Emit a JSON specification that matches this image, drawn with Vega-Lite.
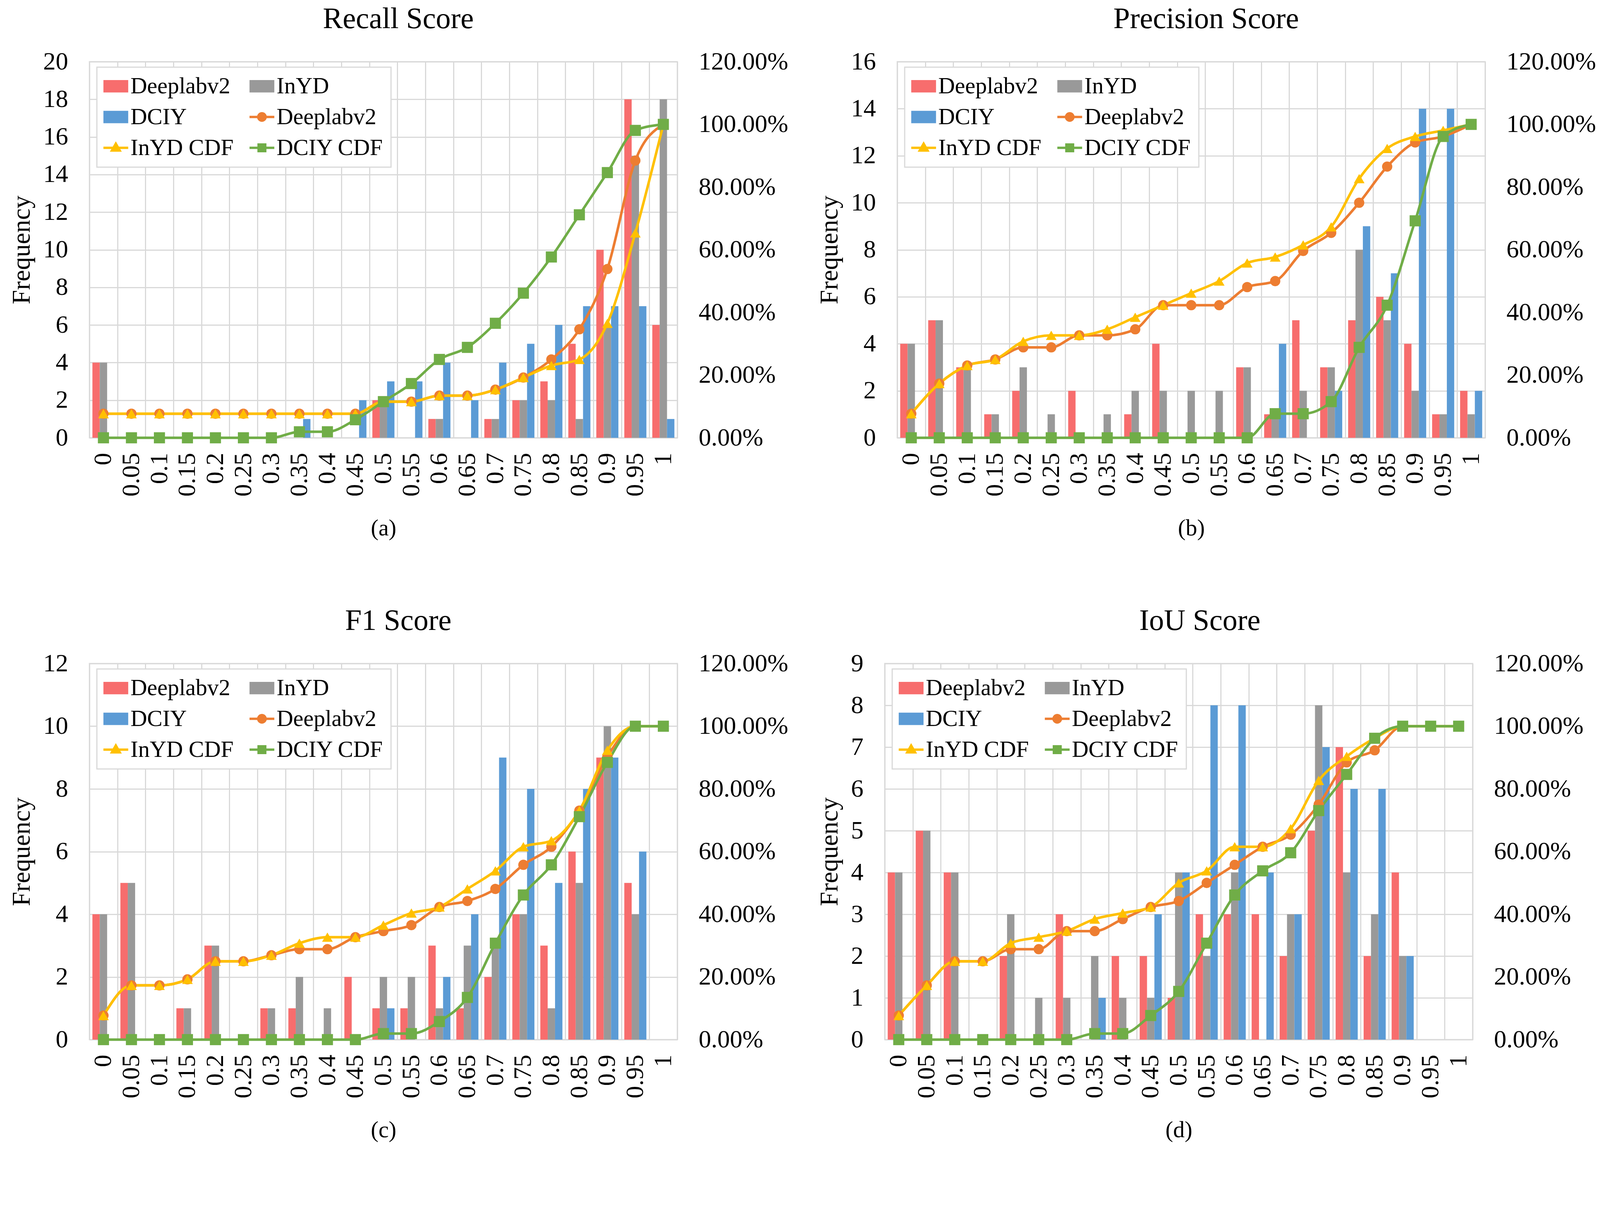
{
"$schema": "https://vega.github.io/schema/vega-lite/v6.json",
"padding": {"left": 20, "top": 9, "right": 4, "bottom": 15},
"background": "white",
"datasets": {
"bars": [
{"p":"a","c":"0","s":"Deeplabv2","v":4},{"p":"a","c":"0.5","s":"Deeplabv2","v":2},{"p":"a","c":"0.6","s":"Deeplabv2","v":1},{"p":"a","c":"0.7","s":"Deeplabv2","v":1},{"p":"a","c":"0.75","s":"Deeplabv2","v":2},{"p":"a","c":"0.8","s":"Deeplabv2","v":3},{"p":"a","c":"0.85","s":"Deeplabv2","v":5},{"p":"a","c":"0.9","s":"Deeplabv2","v":10},{"p":"a","c":"0.95","s":"Deeplabv2","v":18},{"p":"a","c":"1","s":"Deeplabv2","v":6},
{"p":"a","c":"0","s":"InYD","v":4},{"p":"a","c":"0.5","s":"InYD","v":2},{"p":"a","c":"0.6","s":"InYD","v":1},{"p":"a","c":"0.7","s":"InYD","v":1},{"p":"a","c":"0.75","s":"InYD","v":2},{"p":"a","c":"0.8","s":"InYD","v":2},{"p":"a","c":"0.85","s":"InYD","v":1},{"p":"a","c":"0.9","s":"InYD","v":6},{"p":"a","c":"0.95","s":"InYD","v":15},{"p":"a","c":"1","s":"InYD","v":18},
{"p":"a","c":"0.35","s":"DCIY","v":1},{"p":"a","c":"0.45","s":"DCIY","v":2},{"p":"a","c":"0.5","s":"DCIY","v":3},{"p":"a","c":"0.55","s":"DCIY","v":3},{"p":"a","c":"0.6","s":"DCIY","v":4},{"p":"a","c":"0.65","s":"DCIY","v":2},{"p":"a","c":"0.7","s":"DCIY","v":4},{"p":"a","c":"0.75","s":"DCIY","v":5},{"p":"a","c":"0.8","s":"DCIY","v":6},{"p":"a","c":"0.85","s":"DCIY","v":7},{"p":"a","c":"0.9","s":"DCIY","v":7},{"p":"a","c":"0.95","s":"DCIY","v":7},{"p":"a","c":"1","s":"DCIY","v":1},
{"p":"b","c":"0","s":"Deeplabv2","v":4},{"p":"b","c":"0.05","s":"Deeplabv2","v":5},{"p":"b","c":"0.1","s":"Deeplabv2","v":3},{"p":"b","c":"0.15","s":"Deeplabv2","v":1},{"p":"b","c":"0.2","s":"Deeplabv2","v":2},{"p":"b","c":"0.3","s":"Deeplabv2","v":2},{"p":"b","c":"0.4","s":"Deeplabv2","v":1},{"p":"b","c":"0.45","s":"Deeplabv2","v":4},{"p":"b","c":"0.6","s":"Deeplabv2","v":3},{"p":"b","c":"0.65","s":"Deeplabv2","v":1},{"p":"b","c":"0.7","s":"Deeplabv2","v":5},{"p":"b","c":"0.75","s":"Deeplabv2","v":3},{"p":"b","c":"0.8","s":"Deeplabv2","v":5},{"p":"b","c":"0.85","s":"Deeplabv2","v":6},{"p":"b","c":"0.9","s":"Deeplabv2","v":4},{"p":"b","c":"0.95","s":"Deeplabv2","v":1},{"p":"b","c":"1","s":"Deeplabv2","v":2},
{"p":"b","c":"0","s":"InYD","v":4},{"p":"b","c":"0.05","s":"InYD","v":5},{"p":"b","c":"0.1","s":"InYD","v":3},{"p":"b","c":"0.15","s":"InYD","v":1},{"p":"b","c":"0.2","s":"InYD","v":3},{"p":"b","c":"0.25","s":"InYD","v":1},{"p":"b","c":"0.35","s":"InYD","v":1},{"p":"b","c":"0.4","s":"InYD","v":2},{"p":"b","c":"0.45","s":"InYD","v":2},{"p":"b","c":"0.5","s":"InYD","v":2},{"p":"b","c":"0.55","s":"InYD","v":2},{"p":"b","c":"0.6","s":"InYD","v":3},{"p":"b","c":"0.65","s":"InYD","v":1},{"p":"b","c":"0.7","s":"InYD","v":2},{"p":"b","c":"0.75","s":"InYD","v":3},{"p":"b","c":"0.8","s":"InYD","v":8},{"p":"b","c":"0.85","s":"InYD","v":5},{"p":"b","c":"0.9","s":"InYD","v":2},{"p":"b","c":"0.95","s":"InYD","v":1},{"p":"b","c":"1","s":"InYD","v":1},
{"p":"b","c":"0.65","s":"DCIY","v":4},{"p":"b","c":"0.75","s":"DCIY","v":2},{"p":"b","c":"0.8","s":"DCIY","v":9},{"p":"b","c":"0.85","s":"DCIY","v":7},{"p":"b","c":"0.9","s":"DCIY","v":14},{"p":"b","c":"0.95","s":"DCIY","v":14},{"p":"b","c":"1","s":"DCIY","v":2},
{"p":"c","c":"0","s":"Deeplabv2","v":4},{"p":"c","c":"0.05","s":"Deeplabv2","v":5},{"p":"c","c":"0.15","s":"Deeplabv2","v":1},{"p":"c","c":"0.2","s":"Deeplabv2","v":3},{"p":"c","c":"0.3","s":"Deeplabv2","v":1},{"p":"c","c":"0.35","s":"Deeplabv2","v":1},{"p":"c","c":"0.45","s":"Deeplabv2","v":2},{"p":"c","c":"0.5","s":"Deeplabv2","v":1},{"p":"c","c":"0.55","s":"Deeplabv2","v":1},{"p":"c","c":"0.6","s":"Deeplabv2","v":3},{"p":"c","c":"0.65","s":"Deeplabv2","v":1},{"p":"c","c":"0.7","s":"Deeplabv2","v":2},{"p":"c","c":"0.75","s":"Deeplabv2","v":4},{"p":"c","c":"0.8","s":"Deeplabv2","v":3},{"p":"c","c":"0.85","s":"Deeplabv2","v":6},{"p":"c","c":"0.9","s":"Deeplabv2","v":9},{"p":"c","c":"0.95","s":"Deeplabv2","v":5},
{"p":"c","c":"0","s":"InYD","v":4},{"p":"c","c":"0.05","s":"InYD","v":5},{"p":"c","c":"0.15","s":"InYD","v":1},{"p":"c","c":"0.2","s":"InYD","v":3},{"p":"c","c":"0.3","s":"InYD","v":1},{"p":"c","c":"0.35","s":"InYD","v":2},{"p":"c","c":"0.4","s":"InYD","v":1},{"p":"c","c":"0.5","s":"InYD","v":2},{"p":"c","c":"0.55","s":"InYD","v":2},{"p":"c","c":"0.6","s":"InYD","v":1},{"p":"c","c":"0.65","s":"InYD","v":3},{"p":"c","c":"0.7","s":"InYD","v":3},{"p":"c","c":"0.75","s":"InYD","v":4},{"p":"c","c":"0.8","s":"InYD","v":1},{"p":"c","c":"0.85","s":"InYD","v":5},{"p":"c","c":"0.9","s":"InYD","v":10},{"p":"c","c":"0.95","s":"InYD","v":4},
{"p":"c","c":"0.5","s":"DCIY","v":1},{"p":"c","c":"0.6","s":"DCIY","v":2},{"p":"c","c":"0.65","s":"DCIY","v":4},{"p":"c","c":"0.7","s":"DCIY","v":9},{"p":"c","c":"0.75","s":"DCIY","v":8},{"p":"c","c":"0.8","s":"DCIY","v":5},{"p":"c","c":"0.85","s":"DCIY","v":8},{"p":"c","c":"0.9","s":"DCIY","v":9},{"p":"c","c":"0.95","s":"DCIY","v":6},
{"p":"d","c":"0","s":"Deeplabv2","v":4},{"p":"d","c":"0.05","s":"Deeplabv2","v":5},{"p":"d","c":"0.1","s":"Deeplabv2","v":4},{"p":"d","c":"0.2","s":"Deeplabv2","v":2},{"p":"d","c":"0.3","s":"Deeplabv2","v":3},{"p":"d","c":"0.4","s":"Deeplabv2","v":2},{"p":"d","c":"0.45","s":"Deeplabv2","v":2},{"p":"d","c":"0.5","s":"Deeplabv2","v":1},{"p":"d","c":"0.55","s":"Deeplabv2","v":3},{"p":"d","c":"0.6","s":"Deeplabv2","v":3},{"p":"d","c":"0.65","s":"Deeplabv2","v":3},{"p":"d","c":"0.7","s":"Deeplabv2","v":2},{"p":"d","c":"0.75","s":"Deeplabv2","v":5},{"p":"d","c":"0.8","s":"Deeplabv2","v":7},{"p":"d","c":"0.85","s":"Deeplabv2","v":2},{"p":"d","c":"0.9","s":"Deeplabv2","v":4},
{"p":"d","c":"0","s":"InYD","v":4},{"p":"d","c":"0.05","s":"InYD","v":5},{"p":"d","c":"0.1","s":"InYD","v":4},{"p":"d","c":"0.2","s":"InYD","v":3},{"p":"d","c":"0.25","s":"InYD","v":1},{"p":"d","c":"0.3","s":"InYD","v":1},{"p":"d","c":"0.35","s":"InYD","v":2},{"p":"d","c":"0.4","s":"InYD","v":1},{"p":"d","c":"0.45","s":"InYD","v":1},{"p":"d","c":"0.5","s":"InYD","v":4},{"p":"d","c":"0.55","s":"InYD","v":2},{"p":"d","c":"0.6","s":"InYD","v":4},{"p":"d","c":"0.7","s":"InYD","v":3},{"p":"d","c":"0.75","s":"InYD","v":8},{"p":"d","c":"0.8","s":"InYD","v":4},{"p":"d","c":"0.85","s":"InYD","v":3},{"p":"d","c":"0.9","s":"InYD","v":2},
{"p":"d","c":"0.35","s":"DCIY","v":1},{"p":"d","c":"0.45","s":"DCIY","v":3},{"p":"d","c":"0.5","s":"DCIY","v":4},{"p":"d","c":"0.55","s":"DCIY","v":8},{"p":"d","c":"0.6","s":"DCIY","v":8},{"p":"d","c":"0.65","s":"DCIY","v":4},{"p":"d","c":"0.7","s":"DCIY","v":3},{"p":"d","c":"0.75","s":"DCIY","v":7},{"p":"d","c":"0.8","s":"DCIY","v":6},{"p":"d","c":"0.85","s":"DCIY","v":6},{"p":"d","c":"0.9","s":"DCIY","v":2}
],
"cdf": [
{"p":"a","s":"Deeplabv2 CDF","c":"0","v":0.0769},{"p":"a","s":"Deeplabv2 CDF","c":"0.05","v":0.0769},{"p":"a","s":"Deeplabv2 CDF","c":"0.1","v":0.0769},{"p":"a","s":"Deeplabv2 CDF","c":"0.15","v":0.0769},{"p":"a","s":"Deeplabv2 CDF","c":"0.2","v":0.0769},{"p":"a","s":"Deeplabv2 CDF","c":"0.25","v":0.0769},{"p":"a","s":"Deeplabv2 CDF","c":"0.3","v":0.0769},{"p":"a","s":"Deeplabv2 CDF","c":"0.35","v":0.0769},{"p":"a","s":"Deeplabv2 CDF","c":"0.4","v":0.0769},{"p":"a","s":"Deeplabv2 CDF","c":"0.45","v":0.0769},{"p":"a","s":"Deeplabv2 CDF","c":"0.5","v":0.1154},{"p":"a","s":"Deeplabv2 CDF","c":"0.55","v":0.1154},{"p":"a","s":"Deeplabv2 CDF","c":"0.6","v":0.1346},{"p":"a","s":"Deeplabv2 CDF","c":"0.65","v":0.1346},{"p":"a","s":"Deeplabv2 CDF","c":"0.7","v":0.1538},{"p":"a","s":"Deeplabv2 CDF","c":"0.75","v":0.1923},{"p":"a","s":"Deeplabv2 CDF","c":"0.8","v":0.25},{"p":"a","s":"Deeplabv2 CDF","c":"0.85","v":0.3462},{"p":"a","s":"Deeplabv2 CDF","c":"0.9","v":0.5385},{"p":"a","s":"Deeplabv2 CDF","c":"0.95","v":0.8846},{"p":"a","s":"Deeplabv2 CDF","c":"1","v":1},
{"p":"a","s":"InYD CDF","c":"0","v":0.0769},{"p":"a","s":"InYD CDF","c":"0.05","v":0.0769},{"p":"a","s":"InYD CDF","c":"0.1","v":0.0769},{"p":"a","s":"InYD CDF","c":"0.15","v":0.0769},{"p":"a","s":"InYD CDF","c":"0.2","v":0.0769},{"p":"a","s":"InYD CDF","c":"0.25","v":0.0769},{"p":"a","s":"InYD CDF","c":"0.3","v":0.0769},{"p":"a","s":"InYD CDF","c":"0.35","v":0.0769},{"p":"a","s":"InYD CDF","c":"0.4","v":0.0769},{"p":"a","s":"InYD CDF","c":"0.45","v":0.0769},{"p":"a","s":"InYD CDF","c":"0.5","v":0.1154},{"p":"a","s":"InYD CDF","c":"0.55","v":0.1154},{"p":"a","s":"InYD CDF","c":"0.6","v":0.1346},{"p":"a","s":"InYD CDF","c":"0.65","v":0.1346},{"p":"a","s":"InYD CDF","c":"0.7","v":0.1538},{"p":"a","s":"InYD CDF","c":"0.75","v":0.1923},{"p":"a","s":"InYD CDF","c":"0.8","v":0.2308},{"p":"a","s":"InYD CDF","c":"0.85","v":0.25},{"p":"a","s":"InYD CDF","c":"0.9","v":0.3654},{"p":"a","s":"InYD CDF","c":"0.95","v":0.6538},{"p":"a","s":"InYD CDF","c":"1","v":1},
{"p":"a","s":"DCIY CDF","c":"0","v":0},{"p":"a","s":"DCIY CDF","c":"0.05","v":0},{"p":"a","s":"DCIY CDF","c":"0.1","v":0},{"p":"a","s":"DCIY CDF","c":"0.15","v":0},{"p":"a","s":"DCIY CDF","c":"0.2","v":0},{"p":"a","s":"DCIY CDF","c":"0.25","v":0},{"p":"a","s":"DCIY CDF","c":"0.3","v":0},{"p":"a","s":"DCIY CDF","c":"0.35","v":0.0192},{"p":"a","s":"DCIY CDF","c":"0.4","v":0.0192},{"p":"a","s":"DCIY CDF","c":"0.45","v":0.0577},{"p":"a","s":"DCIY CDF","c":"0.5","v":0.1154},{"p":"a","s":"DCIY CDF","c":"0.55","v":0.1731},{"p":"a","s":"DCIY CDF","c":"0.6","v":0.25},{"p":"a","s":"DCIY CDF","c":"0.65","v":0.2885},{"p":"a","s":"DCIY CDF","c":"0.7","v":0.3654},{"p":"a","s":"DCIY CDF","c":"0.75","v":0.4615},{"p":"a","s":"DCIY CDF","c":"0.8","v":0.5769},{"p":"a","s":"DCIY CDF","c":"0.85","v":0.7115},{"p":"a","s":"DCIY CDF","c":"0.9","v":0.8462},{"p":"a","s":"DCIY CDF","c":"0.95","v":0.9808},{"p":"a","s":"DCIY CDF","c":"1","v":1},
{"p":"b","s":"Deeplabv2 CDF","c":"0","v":0.0769},{"p":"b","s":"Deeplabv2 CDF","c":"0.05","v":0.1731},{"p":"b","s":"Deeplabv2 CDF","c":"0.1","v":0.2308},{"p":"b","s":"Deeplabv2 CDF","c":"0.15","v":0.25},{"p":"b","s":"Deeplabv2 CDF","c":"0.2","v":0.2885},{"p":"b","s":"Deeplabv2 CDF","c":"0.25","v":0.2885},{"p":"b","s":"Deeplabv2 CDF","c":"0.3","v":0.3269},{"p":"b","s":"Deeplabv2 CDF","c":"0.35","v":0.3269},{"p":"b","s":"Deeplabv2 CDF","c":"0.4","v":0.3462},{"p":"b","s":"Deeplabv2 CDF","c":"0.45","v":0.4231},{"p":"b","s":"Deeplabv2 CDF","c":"0.5","v":0.4231},{"p":"b","s":"Deeplabv2 CDF","c":"0.55","v":0.4231},{"p":"b","s":"Deeplabv2 CDF","c":"0.6","v":0.4808},{"p":"b","s":"Deeplabv2 CDF","c":"0.65","v":0.5},{"p":"b","s":"Deeplabv2 CDF","c":"0.7","v":0.5962},{"p":"b","s":"Deeplabv2 CDF","c":"0.75","v":0.6538},{"p":"b","s":"Deeplabv2 CDF","c":"0.8","v":0.75},{"p":"b","s":"Deeplabv2 CDF","c":"0.85","v":0.8654},{"p":"b","s":"Deeplabv2 CDF","c":"0.9","v":0.9423},{"p":"b","s":"Deeplabv2 CDF","c":"0.95","v":0.9615},{"p":"b","s":"Deeplabv2 CDF","c":"1","v":1},
{"p":"b","s":"InYD CDF","c":"0","v":0.0769},{"p":"b","s":"InYD CDF","c":"0.05","v":0.1731},{"p":"b","s":"InYD CDF","c":"0.1","v":0.2308},{"p":"b","s":"InYD CDF","c":"0.15","v":0.25},{"p":"b","s":"InYD CDF","c":"0.2","v":0.3077},{"p":"b","s":"InYD CDF","c":"0.25","v":0.3269},{"p":"b","s":"InYD CDF","c":"0.3","v":0.3269},{"p":"b","s":"InYD CDF","c":"0.35","v":0.3462},{"p":"b","s":"InYD CDF","c":"0.4","v":0.3846},{"p":"b","s":"InYD CDF","c":"0.45","v":0.4231},{"p":"b","s":"InYD CDF","c":"0.5","v":0.4615},{"p":"b","s":"InYD CDF","c":"0.55","v":0.5},{"p":"b","s":"InYD CDF","c":"0.6","v":0.5577},{"p":"b","s":"InYD CDF","c":"0.65","v":0.5769},{"p":"b","s":"InYD CDF","c":"0.7","v":0.6154},{"p":"b","s":"InYD CDF","c":"0.75","v":0.6731},{"p":"b","s":"InYD CDF","c":"0.8","v":0.8269},{"p":"b","s":"InYD CDF","c":"0.85","v":0.9231},{"p":"b","s":"InYD CDF","c":"0.9","v":0.9615},{"p":"b","s":"InYD CDF","c":"0.95","v":0.9808},{"p":"b","s":"InYD CDF","c":"1","v":1},
{"p":"b","s":"DCIY CDF","c":"0","v":0},{"p":"b","s":"DCIY CDF","c":"0.05","v":0},{"p":"b","s":"DCIY CDF","c":"0.1","v":0},{"p":"b","s":"DCIY CDF","c":"0.15","v":0},{"p":"b","s":"DCIY CDF","c":"0.2","v":0},{"p":"b","s":"DCIY CDF","c":"0.25","v":0},{"p":"b","s":"DCIY CDF","c":"0.3","v":0},{"p":"b","s":"DCIY CDF","c":"0.35","v":0},{"p":"b","s":"DCIY CDF","c":"0.4","v":0},{"p":"b","s":"DCIY CDF","c":"0.45","v":0},{"p":"b","s":"DCIY CDF","c":"0.5","v":0},{"p":"b","s":"DCIY CDF","c":"0.55","v":0},{"p":"b","s":"DCIY CDF","c":"0.6","v":0},{"p":"b","s":"DCIY CDF","c":"0.65","v":0.0769},{"p":"b","s":"DCIY CDF","c":"0.7","v":0.0769},{"p":"b","s":"DCIY CDF","c":"0.75","v":0.1154},{"p":"b","s":"DCIY CDF","c":"0.8","v":0.2885},{"p":"b","s":"DCIY CDF","c":"0.85","v":0.4231},{"p":"b","s":"DCIY CDF","c":"0.9","v":0.6923},{"p":"b","s":"DCIY CDF","c":"0.95","v":0.9615},{"p":"b","s":"DCIY CDF","c":"1","v":1},
{"p":"c","s":"Deeplabv2 CDF","c":"0","v":0.0769},{"p":"c","s":"Deeplabv2 CDF","c":"0.05","v":0.1731},{"p":"c","s":"Deeplabv2 CDF","c":"0.1","v":0.1731},{"p":"c","s":"Deeplabv2 CDF","c":"0.15","v":0.1923},{"p":"c","s":"Deeplabv2 CDF","c":"0.2","v":0.25},{"p":"c","s":"Deeplabv2 CDF","c":"0.25","v":0.25},{"p":"c","s":"Deeplabv2 CDF","c":"0.3","v":0.2692},{"p":"c","s":"Deeplabv2 CDF","c":"0.35","v":0.2885},{"p":"c","s":"Deeplabv2 CDF","c":"0.4","v":0.2885},{"p":"c","s":"Deeplabv2 CDF","c":"0.45","v":0.3269},{"p":"c","s":"Deeplabv2 CDF","c":"0.5","v":0.3462},{"p":"c","s":"Deeplabv2 CDF","c":"0.55","v":0.3654},{"p":"c","s":"Deeplabv2 CDF","c":"0.6","v":0.4231},{"p":"c","s":"Deeplabv2 CDF","c":"0.65","v":0.4423},{"p":"c","s":"Deeplabv2 CDF","c":"0.7","v":0.4808},{"p":"c","s":"Deeplabv2 CDF","c":"0.75","v":0.5577},{"p":"c","s":"Deeplabv2 CDF","c":"0.8","v":0.6154},{"p":"c","s":"Deeplabv2 CDF","c":"0.85","v":0.7308},{"p":"c","s":"Deeplabv2 CDF","c":"0.9","v":0.9038},{"p":"c","s":"Deeplabv2 CDF","c":"0.95","v":1},{"p":"c","s":"Deeplabv2 CDF","c":"1","v":1},
{"p":"c","s":"InYD CDF","c":"0","v":0.0769},{"p":"c","s":"InYD CDF","c":"0.05","v":0.1731},{"p":"c","s":"InYD CDF","c":"0.1","v":0.1731},{"p":"c","s":"InYD CDF","c":"0.15","v":0.1923},{"p":"c","s":"InYD CDF","c":"0.2","v":0.25},{"p":"c","s":"InYD CDF","c":"0.25","v":0.25},{"p":"c","s":"InYD CDF","c":"0.3","v":0.2692},{"p":"c","s":"InYD CDF","c":"0.35","v":0.3077},{"p":"c","s":"InYD CDF","c":"0.4","v":0.3269},{"p":"c","s":"InYD CDF","c":"0.45","v":0.3269},{"p":"c","s":"InYD CDF","c":"0.5","v":0.3654},{"p":"c","s":"InYD CDF","c":"0.55","v":0.4038},{"p":"c","s":"InYD CDF","c":"0.6","v":0.4231},{"p":"c","s":"InYD CDF","c":"0.65","v":0.4808},{"p":"c","s":"InYD CDF","c":"0.7","v":0.5385},{"p":"c","s":"InYD CDF","c":"0.75","v":0.6154},{"p":"c","s":"InYD CDF","c":"0.8","v":0.6346},{"p":"c","s":"InYD CDF","c":"0.85","v":0.7308},{"p":"c","s":"InYD CDF","c":"0.9","v":0.9231},{"p":"c","s":"InYD CDF","c":"0.95","v":1},{"p":"c","s":"InYD CDF","c":"1","v":1},
{"p":"c","s":"DCIY CDF","c":"0","v":0},{"p":"c","s":"DCIY CDF","c":"0.05","v":0},{"p":"c","s":"DCIY CDF","c":"0.1","v":0},{"p":"c","s":"DCIY CDF","c":"0.15","v":0},{"p":"c","s":"DCIY CDF","c":"0.2","v":0},{"p":"c","s":"DCIY CDF","c":"0.25","v":0},{"p":"c","s":"DCIY CDF","c":"0.3","v":0},{"p":"c","s":"DCIY CDF","c":"0.35","v":0},{"p":"c","s":"DCIY CDF","c":"0.4","v":0},{"p":"c","s":"DCIY CDF","c":"0.45","v":0},{"p":"c","s":"DCIY CDF","c":"0.5","v":0.0192},{"p":"c","s":"DCIY CDF","c":"0.55","v":0.0192},{"p":"c","s":"DCIY CDF","c":"0.6","v":0.0577},{"p":"c","s":"DCIY CDF","c":"0.65","v":0.1346},{"p":"c","s":"DCIY CDF","c":"0.7","v":0.3077},{"p":"c","s":"DCIY CDF","c":"0.75","v":0.4615},{"p":"c","s":"DCIY CDF","c":"0.8","v":0.5577},{"p":"c","s":"DCIY CDF","c":"0.85","v":0.7115},{"p":"c","s":"DCIY CDF","c":"0.9","v":0.8846},{"p":"c","s":"DCIY CDF","c":"0.95","v":1},{"p":"c","s":"DCIY CDF","c":"1","v":1},
{"p":"d","s":"Deeplabv2 CDF","c":"0","v":0.0769},{"p":"d","s":"Deeplabv2 CDF","c":"0.05","v":0.1731},{"p":"d","s":"Deeplabv2 CDF","c":"0.1","v":0.25},{"p":"d","s":"Deeplabv2 CDF","c":"0.15","v":0.25},{"p":"d","s":"Deeplabv2 CDF","c":"0.2","v":0.2885},{"p":"d","s":"Deeplabv2 CDF","c":"0.25","v":0.2885},{"p":"d","s":"Deeplabv2 CDF","c":"0.3","v":0.3462},{"p":"d","s":"Deeplabv2 CDF","c":"0.35","v":0.3462},{"p":"d","s":"Deeplabv2 CDF","c":"0.4","v":0.3846},{"p":"d","s":"Deeplabv2 CDF","c":"0.45","v":0.4231},{"p":"d","s":"Deeplabv2 CDF","c":"0.5","v":0.4423},{"p":"d","s":"Deeplabv2 CDF","c":"0.55","v":0.5},{"p":"d","s":"Deeplabv2 CDF","c":"0.6","v":0.5577},{"p":"d","s":"Deeplabv2 CDF","c":"0.65","v":0.6154},{"p":"d","s":"Deeplabv2 CDF","c":"0.7","v":0.6538},{"p":"d","s":"Deeplabv2 CDF","c":"0.75","v":0.75},{"p":"d","s":"Deeplabv2 CDF","c":"0.8","v":0.8846},{"p":"d","s":"Deeplabv2 CDF","c":"0.85","v":0.9231},{"p":"d","s":"Deeplabv2 CDF","c":"0.9","v":1},{"p":"d","s":"Deeplabv2 CDF","c":"0.95","v":1},{"p":"d","s":"Deeplabv2 CDF","c":"1","v":1},
{"p":"d","s":"InYD CDF","c":"0","v":0.0769},{"p":"d","s":"InYD CDF","c":"0.05","v":0.1731},{"p":"d","s":"InYD CDF","c":"0.1","v":0.25},{"p":"d","s":"InYD CDF","c":"0.15","v":0.25},{"p":"d","s":"InYD CDF","c":"0.2","v":0.3077},{"p":"d","s":"InYD CDF","c":"0.25","v":0.3269},{"p":"d","s":"InYD CDF","c":"0.3","v":0.3462},{"p":"d","s":"InYD CDF","c":"0.35","v":0.3846},{"p":"d","s":"InYD CDF","c":"0.4","v":0.4038},{"p":"d","s":"InYD CDF","c":"0.45","v":0.4231},{"p":"d","s":"InYD CDF","c":"0.5","v":0.5},{"p":"d","s":"InYD CDF","c":"0.55","v":0.5385},{"p":"d","s":"InYD CDF","c":"0.6","v":0.6154},{"p":"d","s":"InYD CDF","c":"0.65","v":0.6154},{"p":"d","s":"InYD CDF","c":"0.7","v":0.6731},{"p":"d","s":"InYD CDF","c":"0.75","v":0.8269},{"p":"d","s":"InYD CDF","c":"0.8","v":0.9038},{"p":"d","s":"InYD CDF","c":"0.85","v":0.9615},{"p":"d","s":"InYD CDF","c":"0.9","v":1},{"p":"d","s":"InYD CDF","c":"0.95","v":1},{"p":"d","s":"InYD CDF","c":"1","v":1},
{"p":"d","s":"DCIY CDF","c":"0","v":0},{"p":"d","s":"DCIY CDF","c":"0.05","v":0},{"p":"d","s":"DCIY CDF","c":"0.1","v":0},{"p":"d","s":"DCIY CDF","c":"0.15","v":0},{"p":"d","s":"DCIY CDF","c":"0.2","v":0},{"p":"d","s":"DCIY CDF","c":"0.25","v":0},{"p":"d","s":"DCIY CDF","c":"0.3","v":0},{"p":"d","s":"DCIY CDF","c":"0.35","v":0.0192},{"p":"d","s":"DCIY CDF","c":"0.4","v":0.0192},{"p":"d","s":"DCIY CDF","c":"0.45","v":0.0769},{"p":"d","s":"DCIY CDF","c":"0.5","v":0.1538},{"p":"d","s":"DCIY CDF","c":"0.55","v":0.3077},{"p":"d","s":"DCIY CDF","c":"0.6","v":0.4615},{"p":"d","s":"DCIY CDF","c":"0.65","v":0.5385},{"p":"d","s":"DCIY CDF","c":"0.7","v":0.5962},{"p":"d","s":"DCIY CDF","c":"0.75","v":0.7308},{"p":"d","s":"DCIY CDF","c":"0.8","v":0.8462},{"p":"d","s":"DCIY CDF","c":"0.85","v":0.9615},{"p":"d","s":"DCIY CDF","c":"0.9","v":1},{"p":"d","s":"DCIY CDF","c":"0.95","v":1},{"p":"d","s":"DCIY CDF","c":"1","v":1}
]
},
"resolve": {"scale": {"color": "independent"}, "legend": {"color": "independent"}},
"spacing": 166,
"vconcat": [
{
"resolve": {"scale": {"color": "independent"}, "legend": {"color": "independent"}},
"spacing": 69,
"hconcat": [
{
"title": "Recall Score",
"width": 1505, "height": 963,
"resolve": {"scale": {"y": "independent"}},
"layer": [
{
"data": {"name": "bars"},
"transform": [{"filter": "datum.p == 'a'"}],
"mark": {"type": "bar"},
"encoding": {
"x": {"field": "c", "type": "nominal", "sort": null, "scale": {"domain": ["0","0.05","0.1","0.15","0.2","0.25","0.3","0.35","0.4","0.45","0.5","0.55","0.6","0.65","0.7","0.75","0.8","0.85","0.9","0.95","1"], "paddingInner": 0, "paddingOuter": 0}, "axis": {"title": "(a)", "grid": true, "tickBand": "extent", "labelAngle": 270, "labelPadding": 38, "titlePadding": 52, "titleFontSize": 59, "domain": true, "domainColor": "#D9D9D9", "domainWidth": 3}},
"xOffset": {"field": "s", "type": "nominal", "scale": {"domain": ["Deeplabv2","InYD","DCIY"], "paddingInner": 0, "paddingOuter": 0.4}},
"y": {"field": "v", "type": "quantitative", "scale": {"domain": [0, 20], "nice": false}, "axis": {"title": "Frequency", "values": [0,2,4,6,8,10,12,14,16,18,20], "grid": true, "labelPadding": 55, "titlePadding": 21}},
"color": {"field": "s", "type": "nominal", "scale": {"domain": ["Deeplabv2","InYD","DCIY","Deeplabv2 CDF","InYD CDF","DCIY CDF"], "range": ["#F76D6D","#999999","#5B9BD5","#ED7D31","#FFC000","#70AD47"]},
"legend": {"title": null, "orient": "none", "direction": "horizontal", "legendX": 19, "legendY": 14, "columns": 2, "symbolSize": 4032, "symbolStrokeWidth": 0, "labelFont": "Liberation Serif", "labelFontSize": 59, "labelColor": "#000000", "labelLimit": 600, "labelOffset": 8, "columnPadding": 28, "rowPadding": 19, "padding": 19, "fillColor": "#FFFFFF", "strokeColor": "#D9D9D9",
"labelExpr": "datum.label == 'Deeplabv2 CDF' ? 'Deeplabv2' : datum.label",
"encode": {"legend": {"update": {"strokeWidth": {"value": 3}}}, "symbols": {"update": {
"shape": {"signal": "indexof(['Deeplabv2','InYD','DCIY'], datum.value) >= 0 ? 'M-1,-0.5H1V0.5H-1Z' : datum.value == 'Deeplabv2 CDF' ? 'M-1,0H1M0.3,0A0.3,0.3,0,1,1,-0.3,0A0.3,0.3,0,1,1,0.3,0Z' : datum.value == 'InYD CDF' ? 'M-1,0H1M0,-0.34L0.32,0.22L-0.32,0.22Z' : 'M-1,0H1M-0.27,-0.27H0.27V0.27H-0.27Z'"},
"fill": {"signal": "datum.value == 'Deeplabv2' ? '#F76D6D' : datum.value == 'InYD' ? '#999999' : datum.value == 'DCIY' ? '#5B9BD5' : datum.value == 'Deeplabv2 CDF' ? '#ED7D31' : datum.value == 'InYD CDF' ? '#FFC000' : '#70AD47'"},
"stroke": {"signal": "datum.value == 'Deeplabv2' ? '#F76D6D' : datum.value == 'InYD' ? '#999999' : datum.value == 'DCIY' ? '#5B9BD5' : datum.value == 'Deeplabv2 CDF' ? '#ED7D31' : datum.value == 'InYD CDF' ? '#FFC000' : '#70AD47'"},
"strokeWidth": {"signal": "indexof(['Deeplabv2','InYD','DCIY'], datum.value) >= 0 ? 0 : 6"},
"opacity": {"value": 1}, "size": {"value": 4032}}}}}}
}
},
{
"data": {"name": "cdf"},
"transform": [{"filter": "datum.p == 'a'"}],
"encoding": {
"x": {"field": "c", "type": "nominal", "sort": null, "scale": {"domain": ["0","0.05","0.1","0.15","0.2","0.25","0.3","0.35","0.4","0.45","0.5","0.55","0.6","0.65","0.7","0.75","0.8","0.85","0.9","0.95","1"], "paddingInner": 0, "paddingOuter": 0}},
"y": {"field": "v", "type": "quantitative", "scale": {"domain": [0, 1.2], "nice": false}, "axis": {"orient": "right", "title": null, "values": [0,0.2,0.4,0.6,0.8,1,1.2], "format": ".2%", "grid": false, "labelPadding": 54, "labelLimit": 500}},
"color": {"field": "s", "type": "nominal", "scale": {"domain": ["Deeplabv2","InYD","DCIY","Deeplabv2 CDF","InYD CDF","DCIY CDF"], "range": ["#F76D6D","#999999","#5B9BD5","#ED7D31","#FFC000","#70AD47"]}}
},
"layer": [
{"mark": {"type": "line", "interpolate": "monotone", "strokeWidth": 6.5}, "encoding": {}},
{"mark": {"type": "point", "filled": true, "opacity": 1}, "encoding": {
"shape": {"field": "s", "type": "nominal", "scale": {"domain": ["Deeplabv2 CDF","InYD CDF","DCIY CDF"], "range": ["circle","triangle-up","square"]}, "legend": null},
"size": {"field": "s", "type": "ordinal", "scale": {"domain": ["Deeplabv2 CDF","InYD CDF","DCIY CDF"], "range": [690, 810, 990]}, "legend": null}}}
]
}
]
},
{
"title": "Precision Score",
"width": 1505, "height": 963,
"resolve": {"scale": {"y": "independent"}},
"layer": [
{
"data": {"name": "bars"},
"transform": [{"filter": "datum.p == 'b'"}],
"mark": {"type": "bar"},
"encoding": {
"x": {"field": "c", "type": "nominal", "sort": null, "scale": {"domain": ["0","0.05","0.1","0.15","0.2","0.25","0.3","0.35","0.4","0.45","0.5","0.55","0.6","0.65","0.7","0.75","0.8","0.85","0.9","0.95","1"], "paddingInner": 0, "paddingOuter": 0}, "axis": {"title": "(b)", "grid": true, "tickBand": "extent", "labelAngle": 270, "labelPadding": 38, "titlePadding": 52, "titleFontSize": 59, "domain": true, "domainColor": "#D9D9D9", "domainWidth": 3}},
"xOffset": {"field": "s", "type": "nominal", "scale": {"domain": ["Deeplabv2","InYD","DCIY"], "paddingInner": 0, "paddingOuter": 0.4}},
"y": {"field": "v", "type": "quantitative", "scale": {"domain": [0, 16], "nice": false}, "axis": {"title": "Frequency", "values": [0,2,4,6,8,10,12,14,16], "grid": true, "labelPadding": 55, "titlePadding": 21}},
"color": {"field": "s", "type": "nominal", "scale": {"domain": ["Deeplabv2","InYD","DCIY","Deeplabv2 CDF","InYD CDF","DCIY CDF"], "range": ["#F76D6D","#999999","#5B9BD5","#ED7D31","#FFC000","#70AD47"]},
"legend": {"title": null, "orient": "none", "direction": "horizontal", "legendX": 19, "legendY": 14, "columns": 2, "symbolSize": 4032, "symbolStrokeWidth": 0, "labelFont": "Liberation Serif", "labelFontSize": 59, "labelColor": "#000000", "labelLimit": 600, "labelOffset": 8, "columnPadding": 28, "rowPadding": 19, "padding": 19, "fillColor": "#FFFFFF", "strokeColor": "#D9D9D9",
"labelExpr": "datum.label == 'Deeplabv2 CDF' ? 'Deeplabv2' : datum.label",
"encode": {"legend": {"update": {"strokeWidth": {"value": 3}}}, "symbols": {"update": {
"shape": {"signal": "indexof(['Deeplabv2','InYD','DCIY'], datum.value) >= 0 ? 'M-1,-0.5H1V0.5H-1Z' : datum.value == 'Deeplabv2 CDF' ? 'M-1,0H1M0.3,0A0.3,0.3,0,1,1,-0.3,0A0.3,0.3,0,1,1,0.3,0Z' : datum.value == 'InYD CDF' ? 'M-1,0H1M0,-0.34L0.32,0.22L-0.32,0.22Z' : 'M-1,0H1M-0.27,-0.27H0.27V0.27H-0.27Z'"},
"fill": {"signal": "datum.value == 'Deeplabv2' ? '#F76D6D' : datum.value == 'InYD' ? '#999999' : datum.value == 'DCIY' ? '#5B9BD5' : datum.value == 'Deeplabv2 CDF' ? '#ED7D31' : datum.value == 'InYD CDF' ? '#FFC000' : '#70AD47'"},
"stroke": {"signal": "datum.value == 'Deeplabv2' ? '#F76D6D' : datum.value == 'InYD' ? '#999999' : datum.value == 'DCIY' ? '#5B9BD5' : datum.value == 'Deeplabv2 CDF' ? '#ED7D31' : datum.value == 'InYD CDF' ? '#FFC000' : '#70AD47'"},
"strokeWidth": {"signal": "indexof(['Deeplabv2','InYD','DCIY'], datum.value) >= 0 ? 0 : 6"},
"opacity": {"value": 1}, "size": {"value": 4032}}}}}}
}
},
{
"data": {"name": "cdf"},
"transform": [{"filter": "datum.p == 'b'"}],
"encoding": {
"x": {"field": "c", "type": "nominal", "sort": null, "scale": {"domain": ["0","0.05","0.1","0.15","0.2","0.25","0.3","0.35","0.4","0.45","0.5","0.55","0.6","0.65","0.7","0.75","0.8","0.85","0.9","0.95","1"], "paddingInner": 0, "paddingOuter": 0}},
"y": {"field": "v", "type": "quantitative", "scale": {"domain": [0, 1.2], "nice": false}, "axis": {"orient": "right", "title": null, "values": [0,0.2,0.4,0.6,0.8,1,1.2], "format": ".2%", "grid": false, "labelPadding": 54, "labelLimit": 500}},
"color": {"field": "s", "type": "nominal", "scale": {"domain": ["Deeplabv2","InYD","DCIY","Deeplabv2 CDF","InYD CDF","DCIY CDF"], "range": ["#F76D6D","#999999","#5B9BD5","#ED7D31","#FFC000","#70AD47"]}}
},
"layer": [
{"mark": {"type": "line", "interpolate": "monotone", "strokeWidth": 6.5}, "encoding": {}},
{"mark": {"type": "point", "filled": true, "opacity": 1}, "encoding": {
"shape": {"field": "s", "type": "nominal", "scale": {"domain": ["Deeplabv2 CDF","InYD CDF","DCIY CDF"], "range": ["circle","triangle-up","square"]}, "legend": null},
"size": {"field": "s", "type": "ordinal", "scale": {"domain": ["Deeplabv2 CDF","InYD CDF","DCIY CDF"], "range": [690, 810, 990]}, "legend": null}}}
]
}
]
}
]
},
{
"resolve": {"scale": {"color": "independent"}, "legend": {"color": "independent"}},
"spacing": 69,
"hconcat": [
{
"title": "F1 Score",
"width": 1505, "height": 963,
"resolve": {"scale": {"y": "independent"}},
"layer": [
{
"data": {"name": "bars"},
"transform": [{"filter": "datum.p == 'c'"}],
"mark": {"type": "bar"},
"encoding": {
"x": {"field": "c", "type": "nominal", "sort": null, "scale": {"domain": ["0","0.05","0.1","0.15","0.2","0.25","0.3","0.35","0.4","0.45","0.5","0.55","0.6","0.65","0.7","0.75","0.8","0.85","0.9","0.95","1"], "paddingInner": 0, "paddingOuter": 0}, "axis": {"title": "(c)", "grid": true, "tickBand": "extent", "labelAngle": 270, "labelPadding": 38, "titlePadding": 52, "titleFontSize": 59, "domain": true, "domainColor": "#D9D9D9", "domainWidth": 3}},
"xOffset": {"field": "s", "type": "nominal", "scale": {"domain": ["Deeplabv2","InYD","DCIY"], "paddingInner": 0, "paddingOuter": 0.4}},
"y": {"field": "v", "type": "quantitative", "scale": {"domain": [0, 12], "nice": false}, "axis": {"title": "Frequency", "values": [0,2,4,6,8,10,12], "grid": true, "labelPadding": 55, "titlePadding": 21}},
"color": {"field": "s", "type": "nominal", "scale": {"domain": ["Deeplabv2","InYD","DCIY","Deeplabv2 CDF","InYD CDF","DCIY CDF"], "range": ["#F76D6D","#999999","#5B9BD5","#ED7D31","#FFC000","#70AD47"]},
"legend": {"title": null, "orient": "none", "direction": "horizontal", "legendX": 19, "legendY": 14, "columns": 2, "symbolSize": 4032, "symbolStrokeWidth": 0, "labelFont": "Liberation Serif", "labelFontSize": 59, "labelColor": "#000000", "labelLimit": 600, "labelOffset": 8, "columnPadding": 28, "rowPadding": 19, "padding": 19, "fillColor": "#FFFFFF", "strokeColor": "#D9D9D9",
"labelExpr": "datum.label == 'Deeplabv2 CDF' ? 'Deeplabv2' : datum.label",
"encode": {"legend": {"update": {"strokeWidth": {"value": 3}}}, "symbols": {"update": {
"shape": {"signal": "indexof(['Deeplabv2','InYD','DCIY'], datum.value) >= 0 ? 'M-1,-0.5H1V0.5H-1Z' : datum.value == 'Deeplabv2 CDF' ? 'M-1,0H1M0.3,0A0.3,0.3,0,1,1,-0.3,0A0.3,0.3,0,1,1,0.3,0Z' : datum.value == 'InYD CDF' ? 'M-1,0H1M0,-0.34L0.32,0.22L-0.32,0.22Z' : 'M-1,0H1M-0.27,-0.27H0.27V0.27H-0.27Z'"},
"fill": {"signal": "datum.value == 'Deeplabv2' ? '#F76D6D' : datum.value == 'InYD' ? '#999999' : datum.value == 'DCIY' ? '#5B9BD5' : datum.value == 'Deeplabv2 CDF' ? '#ED7D31' : datum.value == 'InYD CDF' ? '#FFC000' : '#70AD47'"},
"stroke": {"signal": "datum.value == 'Deeplabv2' ? '#F76D6D' : datum.value == 'InYD' ? '#999999' : datum.value == 'DCIY' ? '#5B9BD5' : datum.value == 'Deeplabv2 CDF' ? '#ED7D31' : datum.value == 'InYD CDF' ? '#FFC000' : '#70AD47'"},
"strokeWidth": {"signal": "indexof(['Deeplabv2','InYD','DCIY'], datum.value) >= 0 ? 0 : 6"},
"opacity": {"value": 1}, "size": {"value": 4032}}}}}}
}
},
{
"data": {"name": "cdf"},
"transform": [{"filter": "datum.p == 'c'"}],
"encoding": {
"x": {"field": "c", "type": "nominal", "sort": null, "scale": {"domain": ["0","0.05","0.1","0.15","0.2","0.25","0.3","0.35","0.4","0.45","0.5","0.55","0.6","0.65","0.7","0.75","0.8","0.85","0.9","0.95","1"], "paddingInner": 0, "paddingOuter": 0}},
"y": {"field": "v", "type": "quantitative", "scale": {"domain": [0, 1.2], "nice": false}, "axis": {"orient": "right", "title": null, "values": [0,0.2,0.4,0.6,0.8,1,1.2], "format": ".2%", "grid": false, "labelPadding": 54, "labelLimit": 500}},
"color": {"field": "s", "type": "nominal", "scale": {"domain": ["Deeplabv2","InYD","DCIY","Deeplabv2 CDF","InYD CDF","DCIY CDF"], "range": ["#F76D6D","#999999","#5B9BD5","#ED7D31","#FFC000","#70AD47"]}}
},
"layer": [
{"mark": {"type": "line", "interpolate": "monotone", "strokeWidth": 6.5}, "encoding": {}},
{"mark": {"type": "point", "filled": true, "opacity": 1}, "encoding": {
"shape": {"field": "s", "type": "nominal", "scale": {"domain": ["Deeplabv2 CDF","InYD CDF","DCIY CDF"], "range": ["circle","triangle-up","square"]}, "legend": null},
"size": {"field": "s", "type": "ordinal", "scale": {"domain": ["Deeplabv2 CDF","InYD CDF","DCIY CDF"], "range": [690, 810, 990]}, "legend": null}}}
]
}
]
},
{
"title": "IoU Score",
"width": 1505, "height": 963,
"resolve": {"scale": {"y": "independent"}},
"layer": [
{
"data": {"name": "bars"},
"transform": [{"filter": "datum.p == 'd'"}],
"mark": {"type": "bar"},
"encoding": {
"x": {"field": "c", "type": "nominal", "sort": null, "scale": {"domain": ["0","0.05","0.1","0.15","0.2","0.25","0.3","0.35","0.4","0.45","0.5","0.55","0.6","0.65","0.7","0.75","0.8","0.85","0.9","0.95","1"], "paddingInner": 0, "paddingOuter": 0}, "axis": {"title": "(d)", "grid": true, "tickBand": "extent", "labelAngle": 270, "labelPadding": 38, "titlePadding": 52, "titleFontSize": 59, "domain": true, "domainColor": "#D9D9D9", "domainWidth": 3}},
"xOffset": {"field": "s", "type": "nominal", "scale": {"domain": ["Deeplabv2","InYD","DCIY"], "paddingInner": 0, "paddingOuter": 0.4}},
"y": {"field": "v", "type": "quantitative", "scale": {"domain": [0, 9], "nice": false}, "axis": {"title": "Frequency", "values": [0,1,2,3,4,5,6,7,8,9], "grid": true, "labelPadding": 55, "titlePadding": 21}},
"color": {"field": "s", "type": "nominal", "scale": {"domain": ["Deeplabv2","InYD","DCIY","Deeplabv2 CDF","InYD CDF","DCIY CDF"], "range": ["#F76D6D","#999999","#5B9BD5","#ED7D31","#FFC000","#70AD47"]},
"legend": {"title": null, "orient": "none", "direction": "horizontal", "legendX": 19, "legendY": 14, "columns": 2, "symbolSize": 4032, "symbolStrokeWidth": 0, "labelFont": "Liberation Serif", "labelFontSize": 59, "labelColor": "#000000", "labelLimit": 600, "labelOffset": 8, "columnPadding": 28, "rowPadding": 19, "padding": 19, "fillColor": "#FFFFFF", "strokeColor": "#D9D9D9",
"labelExpr": "datum.label == 'Deeplabv2 CDF' ? 'Deeplabv2' : datum.label",
"encode": {"legend": {"update": {"strokeWidth": {"value": 3}}}, "symbols": {"update": {
"shape": {"signal": "indexof(['Deeplabv2','InYD','DCIY'], datum.value) >= 0 ? 'M-1,-0.5H1V0.5H-1Z' : datum.value == 'Deeplabv2 CDF' ? 'M-1,0H1M0.3,0A0.3,0.3,0,1,1,-0.3,0A0.3,0.3,0,1,1,0.3,0Z' : datum.value == 'InYD CDF' ? 'M-1,0H1M0,-0.34L0.32,0.22L-0.32,0.22Z' : 'M-1,0H1M-0.27,-0.27H0.27V0.27H-0.27Z'"},
"fill": {"signal": "datum.value == 'Deeplabv2' ? '#F76D6D' : datum.value == 'InYD' ? '#999999' : datum.value == 'DCIY' ? '#5B9BD5' : datum.value == 'Deeplabv2 CDF' ? '#ED7D31' : datum.value == 'InYD CDF' ? '#FFC000' : '#70AD47'"},
"stroke": {"signal": "datum.value == 'Deeplabv2' ? '#F76D6D' : datum.value == 'InYD' ? '#999999' : datum.value == 'DCIY' ? '#5B9BD5' : datum.value == 'Deeplabv2 CDF' ? '#ED7D31' : datum.value == 'InYD CDF' ? '#FFC000' : '#70AD47'"},
"strokeWidth": {"signal": "indexof(['Deeplabv2','InYD','DCIY'], datum.value) >= 0 ? 0 : 6"},
"opacity": {"value": 1}, "size": {"value": 4032}}}}}}
}
},
{
"data": {"name": "cdf"},
"transform": [{"filter": "datum.p == 'd'"}],
"encoding": {
"x": {"field": "c", "type": "nominal", "sort": null, "scale": {"domain": ["0","0.05","0.1","0.15","0.2","0.25","0.3","0.35","0.4","0.45","0.5","0.55","0.6","0.65","0.7","0.75","0.8","0.85","0.9","0.95","1"], "paddingInner": 0, "paddingOuter": 0}},
"y": {"field": "v", "type": "quantitative", "scale": {"domain": [0, 1.2], "nice": false}, "axis": {"orient": "right", "title": null, "values": [0,0.2,0.4,0.6,0.8,1,1.2], "format": ".2%", "grid": false, "labelPadding": 54, "labelLimit": 500}},
"color": {"field": "s", "type": "nominal", "scale": {"domain": ["Deeplabv2","InYD","DCIY","Deeplabv2 CDF","InYD CDF","DCIY CDF"], "range": ["#F76D6D","#999999","#5B9BD5","#ED7D31","#FFC000","#70AD47"]}}
},
"layer": [
{"mark": {"type": "line", "interpolate": "monotone", "strokeWidth": 6.5}, "encoding": {}},
{"mark": {"type": "point", "filled": true, "opacity": 1}, "encoding": {
"shape": {"field": "s", "type": "nominal", "scale": {"domain": ["Deeplabv2 CDF","InYD CDF","DCIY CDF"], "range": ["circle","triangle-up","square"]}, "legend": null},
"size": {"field": "s", "type": "ordinal", "scale": {"domain": ["Deeplabv2 CDF","InYD CDF","DCIY CDF"], "range": [690, 810, 990]}, "legend": null}}}
]
}
]
}
]
}
],
"config": {
"font": "Liberation Serif",
"view": {"stroke": "#D9D9D9", "strokeWidth": 3},
"axis": {"labelFont": "Liberation Serif", "labelFontSize": 64, "labelColor": "#000000", "titleFont": "Liberation Serif", "titleFontSize": 66, "titleFontWeight": "normal", "titleColor": "#000000", "ticks": false, "tickSize": 0, "domain": false, "gridColor": "#D9D9D9", "gridWidth": 3, "labelOverlap": false, "labelFlush": false},
"title": {"font": "Liberation Serif", "fontSize": 76, "fontWeight": "normal", "color": "#000000", "offset": 38, "frame": "bounds"}
}
}
